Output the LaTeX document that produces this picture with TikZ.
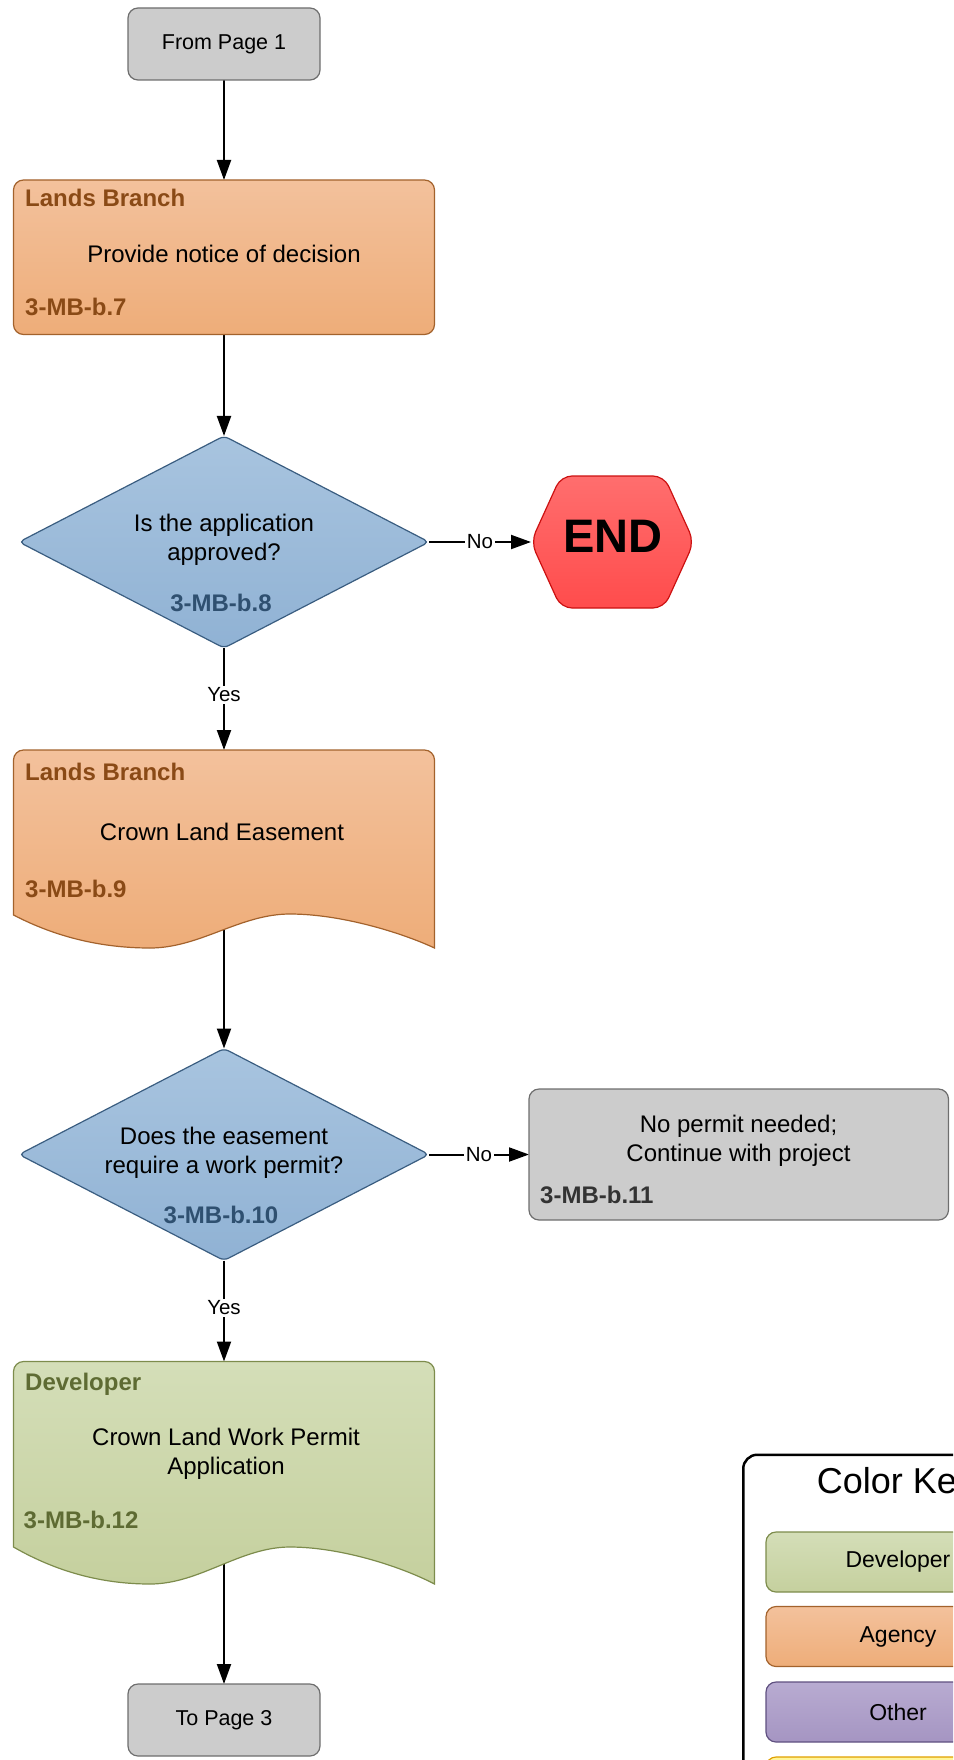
\documentclass[tikz,border=0pt]{standalone}
\usepackage{fontspec}
\setmainfont{Liberation Sans}
\usetikzlibrary{arrows.meta,backgrounds,shapes.geometric}
\definecolor{cGrF}{HTML}{CCCCCC}
\definecolor{cGrL}{HTML}{6E6E6E}
\definecolor{cGrT}{HTML}{333333}
\definecolor{cOrTop}{HTML}{F3C19C}
\definecolor{cOrBot}{HTML}{EEAD79}
\definecolor{cOrLine}{HTML}{A3622C}
\definecolor{cOrText}{HTML}{8A4A16}
\definecolor{cBlTop}{HTML}{A8C4DF}
\definecolor{cBlBot}{HTML}{90B2D4}
\definecolor{cBlLine}{HTML}{3A5D80}
\definecolor{cBlText}{HTML}{2F5070}
\definecolor{cGnTop}{HTML}{D4DEB8}
\definecolor{cGnBot}{HTML}{C5D09E}
\definecolor{cGnLine}{HTML}{7D8C4C}
\definecolor{cGnText}{HTML}{5E6B33}
\definecolor{cPuTop}{HTML}{B8ABD1}
\definecolor{cPuBot}{HTML}{A595C2}
\definecolor{cPuLine}{HTML}{5F5080}
\definecolor{cYeF}{HTML}{FFF59A}
\definecolor{cYeLine}{HTML}{E0A000}
\definecolor{cRdTop}{HTML}{FF6E6E}
\definecolor{cRdBot}{HTML}{FF4C4C}
\definecolor{cRdLine}{HTML}{CC1111}
\begin{document}
\begin{tikzpicture}[x=1pt,y=-1pt,
  arr/.style={line width=2pt,-{Triangle[length=20pt,width=14pt]}},
  lbl/.style={fill=white,inner sep=1.5pt,font=\fontsize{20.5}{24}\selectfont},
  main/.style={font=\fontsize{24}{29}\selectfont,inner sep=0pt,align=center},
  ttl/.style={font=\fontsize{24}{29}\selectfont\bfseries,inner sep=0pt,anchor=base west},
  ph/.style={inner sep=0pt,outer sep=0pt},
  greybox/.style={draw=cGrL,fill=cGrF,line width=1.2pt,rounded corners=10pt,inner sep=0pt,outer sep=0pt},
  orbox/.style={draw=cOrLine,top color=cOrTop,bottom color=cOrBot,line width=1.2pt,rounded corners=10pt,inner sep=0pt,outer sep=0pt},
  orshape/.style={draw=cOrLine,top color=cOrTop,bottom color=cOrBot,line width=1.2pt},
  gnshape/.style={draw=cGnLine,top color=cGnTop,bottom color=cGnBot,line width=1.2pt},
  dia/.style={diamond,draw=cBlLine,top color=cBlTop,bottom color=cBlBot,line width=1.2pt,
    minimum width=410pt,minimum height=212pt,inner sep=0pt,outer sep=0pt,rounded corners=5pt},
  keyitem/.style={rounded corners=10pt,line width=1.2pt,minimum width=264pt,minimum height=60pt,
    inner sep=0pt,font=\fontsize{23}{28}\selectfont}
]
\useasboundingbox (0,0) rectangle (953,1760);
\clip (0,0) rectangle (953,1760);

% From Page 1
\node[greybox,minimum width=192pt,minimum height=72pt,font=\fontsize{21.5}{26}\selectfont] (from1) at (224,44) {From Page 1};

% Lands Branch 1
\node[orbox,minimum width=421pt,minimum height=154.5pt] (lb1) at (224,257.25) {};
\node[ttl,text=cOrText] (lb1a) at (25,207) {Lands Branch};
\node[main,anchor=base] (lb1b) at (224,262.5) {Provide notice of decision};
\node[ttl,text=cOrText] (lb1c) at (25,315.5) {3-MB-b.7};

% Decision 1
\node[dia] (d1) at (224,542) {};
\node[main] (d1a) at (224,539.5) {Is the application\\approved?};
\node[ttl,text=cBlText,anchor=base] (d1c) at (221,611) {3-MB-b.8};

% END
\node[ph,minimum width=163pt,minimum height=132pt] (endn) at (612.5,542) {};
\draw[draw=cRdLine,top color=cRdTop,bottom color=cRdBot,line width=1.2pt,rounded corners=11pt]
  (531,542) -- (561,476) -- (664,476) -- (694,542) -- (664,608) -- (561,608) -- cycle;
\node[font=\fontsize{47}{52}\selectfont\bfseries,inner sep=0pt] (endt) at (613,536) {END};

% Document 1 (Lands Branch, Crown Land Easement)
\node[ph,minimum width=421pt,minimum height=198pt] (doc1) at (224,849) {};
\draw[orshape] (13.5,915) -- (13.5,760) .. controls (13.5,754.5) and (18,750) .. (23.5,750)
  -- (424.5,750) .. controls (430,750) and (434.5,754.5) .. (434.5,760)
  -- (434.5,948) .. controls (400,932) and (340,914) .. (290,914)
  .. controls (240,914) and (200,948) .. (150,948)
  .. controls (95,948) and (50,934) .. (13.5,915) -- cycle;
\node[ttl,text=cOrText] (doc1a) at (25,780) {Lands Branch};
\node[main,anchor=base] (doc1b) at (222,840) {Crown Land Easement};
\node[ttl,text=cOrText] (doc1c) at (25,897) {3-MB-b.9};

% Decision 2
\node[dia] (d2) at (224,1154.5) {};
\node[main] (d2a) at (224,1153) {Does the easement\\require a work permit?};
\node[ttl,text=cBlText,anchor=base] (d2c) at (221,1223) {3-MB-b.10};

% No permit box
\node[greybox,minimum width=419.5pt,minimum height=131pt] (g1) at (738.75,1154.5) {};
\node[main] (g1a) at (738.5,1141) {No permit needed;\\Continue with project};
\node[ttl,text=cGrT] (g1c) at (540,1203) {3-MB-b.11};

% Document 2 (Developer)
\node[ph,minimum width=421pt,minimum height=222.5pt] (doc2) at (224,1472.75) {};
\draw[gnshape] (13.5,1547) -- (13.5,1371.5) .. controls (13.5,1366) and (18,1361.5) .. (23.5,1361.5)
  -- (424.5,1361.5) .. controls (430,1361.5) and (434.5,1366) .. (434.5,1371.5)
  -- (434.5,1584) .. controls (400,1566) and (340,1547) .. (290,1547)
  .. controls (240,1547) and (200,1584) .. (150,1584)
  .. controls (95,1584) and (50,1568) .. (13.5,1547) -- cycle;
\node[ttl,text=cGnText] (doc2a) at (25,1390) {Developer};
\node[main] (doc2b) at (226,1453.5) {Crown Land Work Permit\\Application};
\node[ttl,text=cGnText] (doc2c) at (23.5,1528) {3-MB-b.12};

% To Page 3
\node[greybox,minimum width=192pt,minimum height=72pt,font=\fontsize{21.5}{26}\selectfont] (to3) at (224,1720) {To Page 3};

% Color key
\node[draw=black,line width=2.5pt,rounded corners=14pt,minimum width=330pt,minimum height=420pt,
  inner sep=0pt,anchor=north west] (keyframe) at (742,1453.5) {};
\node[font=\fontsize{36}{42}\selectfont,inner sep=0pt] (keytitle) at (896,1484) {Color Key};
\node[keyitem,draw=cGnLine,top color=cGnTop,bottom color=cGnBot] (kdev) at (898,1562) {Developer};
\node[keyitem,draw=cOrLine,top color=cOrTop,bottom color=cOrBot] (kage) at (898,1636.5) {Agency};
\node[keyitem,draw=cPuLine,top color=cPuTop,bottom color=cPuBot] (koth) at (898,1712) {Other};
\node[keyitem,draw=cYeLine,fill=cYeF] (kyel) at (898,1787) {};

% Connectors
\begin{scope}[on background layer]
\draw[arr] (from1) -- (lb1);
\draw[arr] (lb1) -- (d1);
\draw[arr] (d1.east) -- node[lbl] (no1) {No} (endn.west);
\draw[arr] (d1.south) -- node[lbl,pos=0.46] (yes1) {Yes} (doc1.north);
\draw[arr] (doc1.center) -- (d2.north);
\draw[arr] (d2.east) -- node[lbl] (no2) {No} (g1.west);
\draw[arr] (d2.south) -- node[lbl,pos=0.47] (yes2) {Yes} (doc2.north);
\draw[arr] (doc2.center) -- (to3.north);
\end{scope}
\end{tikzpicture}
\end{document}
